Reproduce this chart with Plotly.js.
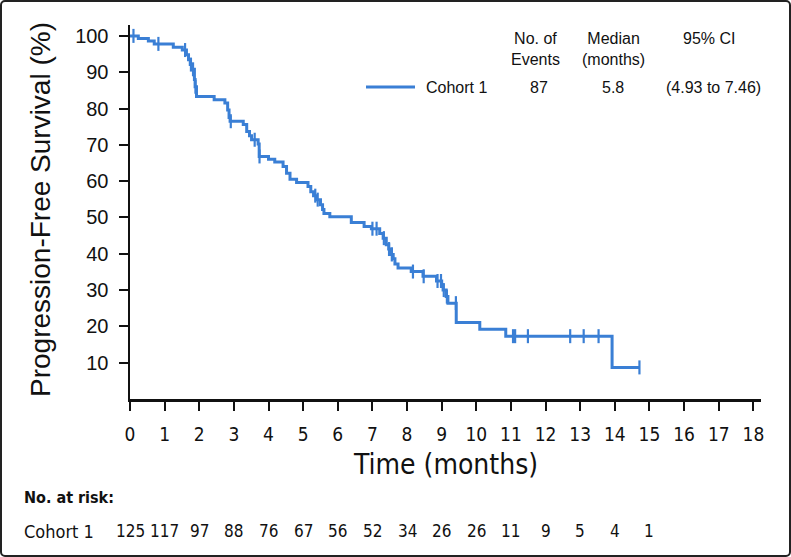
<!DOCTYPE html>
<html>
<head>
<meta charset="utf-8">
<script src="https://cdn.plot.ly/plotly-3.0.1.min.js"></script>
<style>
  html, body { margin: 0; padding: 0; background: #fff; }
  #wrap { position: relative; width: 791px; height: 557px; }
  #chart { width: 791px; height: 557px; }
  #frame { position: absolute; left: 0; top: 0; width: 791px; height: 557px; box-sizing: border-box;
           border: 2px solid #222; border-radius: 5px; pointer-events: none; }
</style>
</head>
<body>
<div id="wrap"><div id="chart"></div><div id="frame"></div></div>
<script>
// Kaplan-Meier step data (months, % progression-free)
const eventTimes = [0, 0.24, 0.53, 0.70, 1.25, 1.51, 1.63, 1.69, 1.74, 1.80, 1.86, 1.88, 1.92,
  2.43, 2.74, 2.82, 2.86, 2.89, 3.27, 3.37, 3.45, 3.51, 3.70, 3.73, 4.00, 4.18, 4.42, 4.52,
  4.62, 4.81, 5.14, 5.22, 5.30, 5.38, 5.50, 5.56, 5.60, 5.77, 6.39, 6.76, 6.97, 7.21, 7.31,
  7.40, 7.47, 7.55, 7.60, 7.65, 7.74, 8.12, 8.46, 8.85, 9.00, 9.04, 9.13, 9.18, 9.42, 10.10,
  10.85, 13.92];
const survival = [100, 99.3, 98.6, 97.8, 96.9, 96.1, 94.8, 93.4, 92.1, 90.8, 88.0, 86.0, 83.3,
  82.4, 81.5, 79.6, 77.5, 76.5, 75.6, 73.7, 72.5, 71.4, 70.2, 66.8, 66.0, 65.3, 64.0, 62.2,
  60.5, 59.6, 58.5, 57.1, 56.0, 54.9, 53.5, 52.2, 51.1, 50.2, 48.6, 47.5, 46.9, 45.6, 44.3,
  42.5, 41.3, 39.8, 38.6, 37.2, 36.1, 35.1, 33.8, 32.5, 31.3, 30.0, 28.2, 26.4, 21.1, 19.2,
  17.3, 8.7];
const lastFollowUp = 14.71;
const censorTimes = [0.10, 0.82, 1.59, 1.76, 1.82, 1.89, 2.91, 3.60, 3.74, 5.35, 5.42, 7.00,
  7.12, 7.33, 7.48, 7.56, 8.17, 8.48, 8.88, 8.98, 9.06, 9.15, 9.41, 11.06, 11.12, 11.49,
  12.71, 13.10, 13.53, 14.71];

const xTicks = [0,1,2,3,4,5,6,7,8,9,10,11,12,13,14,15,16,17,18];
const yTicks = [10,20,30,40,50,60,70,80,90,100];

const riskTimes = [0,1,2,3,4,5,6,7,8,9,10,11,12,13,14,15];
const riskCounts = [125,117,97,88,76,67,56,52,34,26,26,11,9,5,4,1];

const cohortName = "Cohort 1";
const nEvents = "87";
const medianMonths = "5.8";
const ci95 = "(4.93 to 7.46)";

const blue = "#3a7fd5";
const ink = "#111111";
const narrow = '"Liberation Sans Narrow", "Arial Narrow", "DejaVu Sans Condensed", sans-serif';
const reg = '"Liberation Sans", Arial, Helvetica, sans-serif';

function survAt(t) {
  let s = survival[0];
  for (let i = 0; i < eventTimes.length; i++) { if (eventTimes[i] <= t) s = survival[i]; }
  return s;
}

const curve = {
  x: eventTimes.concat([lastFollowUp]),
  y: survival.concat([survival[survival.length - 1]]),
  type: "scatter", mode: "lines",
  line: { shape: "hv", color: blue, width: 3 },
  hoverinfo: "skip", showlegend: false
};
const censors = {
  x: censorTimes, y: censorTimes.map(survAt),
  type: "scatter", mode: "markers",
  marker: { symbol: "line-ns-open", size: 10, color: blue, line: { color: blue, width: 2.2 } },
  cliponaxis: false, hoverinfo: "skip", showlegend: false
};

const L = 130, R = 30, T = 25, B = 158, W = 791, H = 557;
const pw = W - L - R, ph = H - T - B;
const px = v => (v - L) / pw;
const py = v => (H - B - v) / ph;

const annotations = [];
const legFont = { family: reg, size: 16, color: ink };
annotations.push({ xref: "paper", yref: "paper", x: px(535), y: py(48.5), text: "No. of<br>Events",
  showarrow: false, xanchor: "center", yanchor: "middle", font: legFont });
annotations.push({ xref: "paper", yref: "paper", x: px(613), y: py(48.5), text: "Median<br>(months)",
  showarrow: false, xanchor: "center", yanchor: "middle", font: legFont });
annotations.push({ xref: "paper", yref: "paper", x: px(709), y: py(38), text: "95% CI",
  showarrow: false, xanchor: "center", yanchor: "middle", font: legFont });
annotations.push({ xref: "paper", yref: "paper", x: px(424), y: py(87), text: cohortName,
  showarrow: false, xanchor: "left", yanchor: "middle", font: legFont });
annotations.push({ xref: "paper", yref: "paper", x: px(539), y: py(87), text: nEvents,
  showarrow: false, xanchor: "center", yanchor: "middle", font: legFont });
annotations.push({ xref: "paper", yref: "paper", x: px(613), y: py(87), text: medianMonths,
  showarrow: false, xanchor: "center", yanchor: "middle", font: legFont });
annotations.push({ xref: "paper", yref: "paper", x: px(713), y: py(87), text: ci95,
  showarrow: false, xanchor: "center", yanchor: "middle", font: legFont });

// axis titles
annotations.push({ xref: "paper", yref: "paper", x: px(445), y: py(464), text: "Time (months)",
  showarrow: false, xanchor: "center", yanchor: "middle", font: { family: narrow, size: 28, color: ink } });
annotations.push({ xref: "paper", yref: "paper", x: px(40), y: py(210), text: "Progression-Free Survival (%)",
  textangle: -90, showarrow: false, xanchor: "center", yanchor: "middle", font: { family: reg, size: 28, color: ink } });

// risk table
annotations.push({ xref: "paper", yref: "paper", x: px(22), y: py(497), text: "<b>No. at risk:</b>",
  showarrow: false, xanchor: "left", yanchor: "middle", font: { family: narrow, size: 16, color: ink } });
annotations.push({ xref: "paper", yref: "paper", x: px(22), y: py(531), text: cohortName,
  showarrow: false, xanchor: "left", yanchor: "middle", font: { family: narrow, size: 18, color: ink } });
riskTimes.forEach((t, i) => {
  annotations.push({ xref: "x", yref: "paper", x: t, y: py(531), text: String(riskCounts[i]),
    showarrow: false, xanchor: "center", yanchor: "middle", font: { family: narrow, size: 17, color: ink } });
});

const layout = {
  width: W, height: H,
  margin: { l: L, r: R, t: T, b: B, pad: 0 },
  paper_bgcolor: "#ffffff", plot_bgcolor: "#ffffff",
  showlegend: false,
  xaxis: {
    range: [0, 18.22], tickmode: "array", tickvals: xTicks, ticktext: xTicks.map(String),
    ticks: "outside", ticklen: 9, tickwidth: 2, tickcolor: ink,
    showline: true, linecolor: ink, linewidth: 2.5, showgrid: false, zeroline: false,
    tickfont: { family: narrow, size: 19, color: ink }, ticklabelstandoff: 8,
    fixedrange: true
  },
  yaxis: {
    range: [0, 103], tickmode: "array", tickvals: yTicks, ticktext: yTicks.map(String),
    ticks: "outside", ticklen: 9, tickwidth: 2, tickcolor: ink,
    showline: true, linecolor: ink, linewidth: 2.5, showgrid: false, zeroline: false,
    tickfont: { family: reg, size: 20, color: ink }, ticklabelstandoff: 6,
    fixedrange: true
  },
  shapes: [{ type: "line", xref: "paper", yref: "paper", x0: px(366), x1: px(415), y0: py(87), y1: py(87),
    line: { color: blue, width: 3 } }],
  annotations: annotations
};

Plotly.newPlot("chart", [curve, censors], layout, { displayModeBar: false, staticPlot: true });
</script>
</body>
</html>
